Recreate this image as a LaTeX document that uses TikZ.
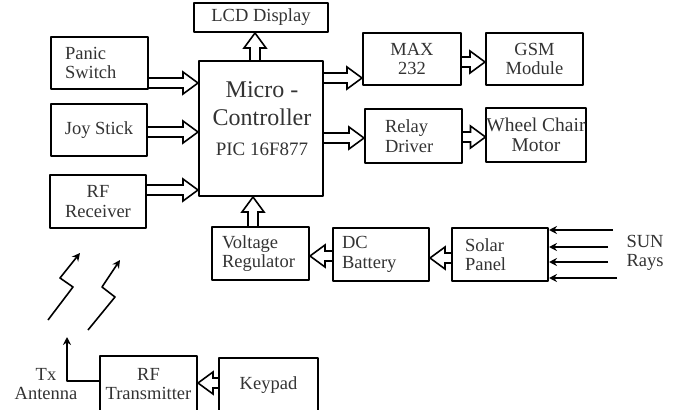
\documentclass[tikz,border=0pt]{standalone}
\usepackage{fontspec}
\setmainfont{Liberation Serif}
\usetikzlibrary{arrows.meta,calc}
\begin{document}
\begin{tikzpicture}[x=1pt,y=-1pt,>={Stealth[length=8pt,width=8pt]},line join=round,
	font=\fontsize{18.5}{19.5}\selectfont,
	blk/.style={draw,line width=2pt,inner sep=0pt,align=center,text=black!80},
	sz/.style 2 args={minimum width=#1pt,minimum height=#2pt},
	fat/.style={draw,line width=1.6pt,line join=miter,to path={
			($(\tikztostart)!5pt!90:(\tikztotarget)$)
			-- ($(\tikztotarget)!15pt!(\tikztostart)!5pt!90:(\tikztotarget)$)
			-- ($(\tikztotarget)!15pt!(\tikztostart)!11pt!90:(\tikztotarget)$)
			-- (\tikztotarget)
			-- ($(\tikztotarget)!15pt!(\tikztostart)!11pt!-90:(\tikztotarget)$)
			-- ($(\tikztotarget)!15pt!(\tikztostart)!5pt!-90:(\tikztotarget)$)
			-- ($(\tikztostart)!5pt!-90:(\tikztotarget)$)}}]
	\useasboundingbox (0,0) rectangle (687,409);
	\clip (0,0) rectangle (687,409);
	% blocks
	\node[blk,sz={134}{29}] (lcd) at (261,17.5) {LCD Display};
	\node[blk,sz={97}{52},text width=69pt,align=left] (panic) at (99.5,63) {Panic\\Switch};
	\node[blk,sz={96}{52}] (joy) at (99,130) {Joy Stick};
	\node[blk,sz={96}{53}] (rfrx) at (98,201.5) {RF\\Receiver};
	\node[blk,sz={124}{135}] (mc) at (261,128.5) {};
	\node[text=black!80,align=center,font=\fontsize{24}{28}\selectfont] (mctext) at (262,119)
	{Micro -\\Controller\\[2pt]{\fontsize{19}{20}\selectfont PIC 16F877}};
	\node[blk,sz={98}{52}] (max) at (412,59) {MAX\\232};
	\node[blk,sz={97}{52}] (gsm) at (534.5,59) {GSM\\Module};
	\node[blk,sz={97}{54},text width=57pt,align=left] (relay) at (413.5,136) {Relay\\Driver};
	\node[blk,sz={98}{54},font=\fontsize{19.5}{20}\selectfont] (wheel) at (536,135) {Wheel Chair\\Motor};
	\node[blk,sz={97}{53},text width=77pt,align=left] (vreg) at (260.5,253.5) {Voltage\\Regulator};
	\node[blk,sz={96}{53},text width=78pt,align=left] (batt) at (381,254.5) {DC\\Battery};
	\node[blk,sz={96}{53},text width=70pt,align=left] (solar) at (500,254.5) {Solar\\Panel};
	\node[text=black!80,align=left] (sun) at (645,253) {SUN\\Rays};
	\node[blk,sz={97}{56}] (rftx) at (148.5,384) {RF\\Transmitter};
	\node[blk,sz={99}{54}] (keypad) at (268.5,385) {Keypad};
	\node[text=black!80,align=center] (tx) at (46,384) {Tx\\Antenna};
	% data paths
	\draw[fat] (panic.east |- 0,83) to (mc.west |- 0,83);
	\draw[fat] (joy.east |- 0,132) to (mc.west |- 0,132);
	\draw[fat] (rfrx.east |- 0,190) to (mc.west |- 0,190);
	\draw[fat] (mc.north -| 255,0) to (lcd.south -| 255,0);
	\draw[fat] (mc.east |- 0,78) to (max.west |- 0,78);
	\draw[fat] (max.east |- 0,62) to (gsm.west |- 0,62);
	\draw[fat] (mc.east |- 0,138) to (relay.west |- 0,138);
	\draw[fat] (relay.east |- 0,137) to (wheel.west |- 0,137);
	% power chain
	\draw[fat] (vreg.north -| 253,0) to (mc.south -| 253,0);
	\draw[fat] (batt.west |- 0,256) to (vreg.east |- 0,256);
	\draw[fat] (solar.west |- 0,258) to (batt.east |- 0,258);
	\foreach \y/\x in {230/613,247/608,262/608,278/617}{
		\coordinate (ray) at (\x,\y);
		\draw[->,line width=1.8pt] (ray) -- (solar.east |- ray);
	}
	% remote side
	\draw[fat] (keypad.west |- 0,383) to (rftx.east |- 0,383);
	\coordinate (ant) at (67,337);
	\draw[->,line width=1.6pt] (rftx.west |- 0,381) -| (ant);
	\draw[->,line width=1.6pt] (48,320) -- (73,287) -- (60,278) -- (80,253);
	\draw[->,line width=1.6pt] (88,330) -- (115,297) -- (102,287) -- (120,260);
\end{tikzpicture}
\end{document}
